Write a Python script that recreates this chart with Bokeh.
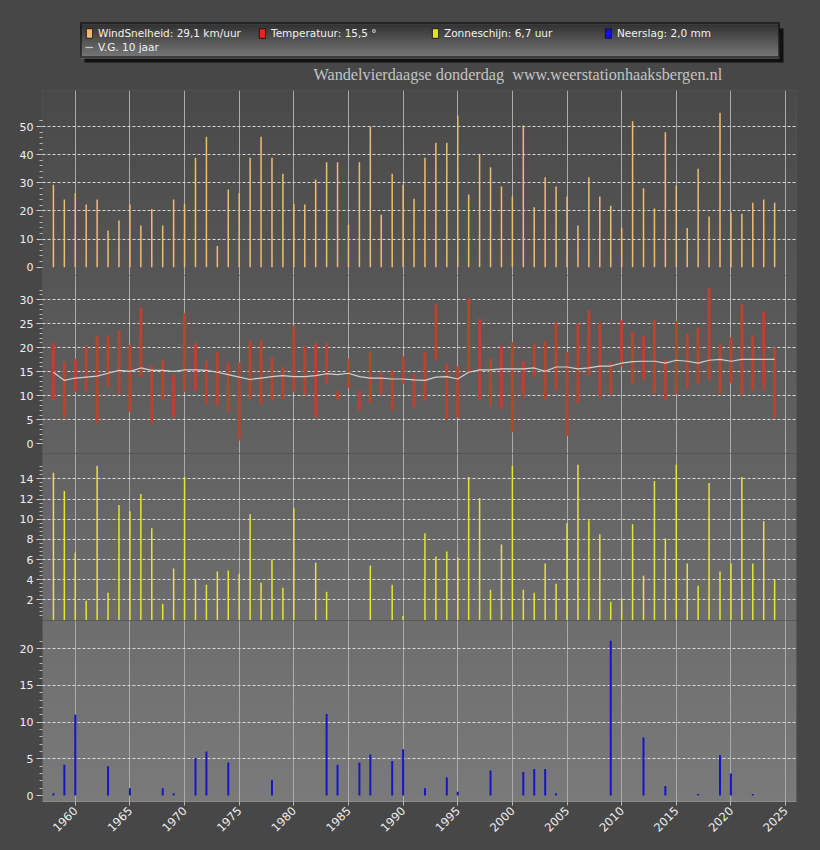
import math
import numpy as np
from bokeh.plotting import figure
from bokeh.models import Range1d, FixedTicker, Legend, LegendItem, Label
from bokeh.layouts import column
from bokeh.embed import file_html
from bokeh.resources import INLINE

# ---------------- data ----------------
years = list(range(1958, 2025))

wind_kmh = [29.3, 24.1, 26.3, 22.3, 24.1, 13.0, 16.6, 22.3, 14.8, 20.7, 14.8, 24.1,
            22.5, 38.9, 46.4, 7.5, 27.6, 26.3, 38.9, 46.4, 38.9, 33.2,
            22.5, 22.3, 31.2, 37.3, 37.3, 15.1, 37.3, 50.0, 18.6, 33.2,
            29.3, 24.3, 38.9, 44.2, 44.2, 53.9, 25.8, 39.9, 35.5, 28.7,
            25.1, 50.4, 21.3, 32.0, 28.7, 25.1, 14.8, 32.0, 25.1, 21.8,
            14.0, 51.9, 28.1, 20.9, 48.0, 29.0, 13.9, 35.0, 18.0, 54.9,
            19.5, 19.0, 22.9, 24.1, 22.9]

temp_max = [21.0, 17.1, 17.7, 20.3, 22.4, 22.6, 23.6, 20.6, 28.3, 16.3, 17.5, 14.6,
            27.3, 21.0, 17.3, 19.1, 17.0, 17.0, 21.4, 21.5, 18.0, 16.1,
            24.6, 20.4, 21.0, 21.0, 11.0, 17.7, 11.1, 19.1, 14.8, 15.4,
            18.2, 14.6, 19.1, 29.0, 16.8, 16.1, 30.2, 26.0, 17.7, 20.3,
            21.2, 17.1, 20.8, 21.4, 25.3, 19.1, 25.1, 27.8, 25.3, 17.0,
            25.7, 23.3, 22.4, 25.8, 17.5, 25.6, 22.9, 24.2, 32.5, 20.7,
            22.2, 29.0, 22.6, 27.6, 20.1]

temp_min = [9.2, 5.5, 10.8, 11.0, 4.3, 11.9, 10.4, 6.7, 13.9, 4.2, 9.2, 5.5,
            10.8, 11.1, 8.3, 8.0, 6.6, 0.7, 9.4, 8.3, 9.0, 9.2,
            10.8, 10.1, 5.5, 12.5, 9.2, 11.7, 6.9, 8.5, 10.4, 6.9,
            12.5, 7.6, 9.0, 17.4, 4.9, 5.5, 14.9, 9.2, 7.8, 7.3,
            2.4, 9.7, 13.9, 9.2, 11.1, 1.7, 8.5, 14.2, 9.7, 10.4,
            16.1, 12.4, 13.3, 10.5, 9.2, 10.4, 11.5, 12.5, 13.2, 10.5,
            12.6, 10.1, 11.1, 11.1, 5.5]

temp_avg10 = [14.9, 13.2, 13.7, 13.9, 14.1, 14.7, 15.3, 15.1, 15.8, 15.3, 15.3, 15.1,
              15.4, 15.4, 15.3, 14.9, 14.4, 13.9, 13.4, 13.7, 14.0, 14.2,
              14.0, 14.0, 14.2, 14.6, 14.4, 14.7, 14.0, 13.7, 13.7, 13.5,
              13.5, 13.3, 13.2, 13.9, 14.0, 13.5, 14.9, 15.4, 15.4, 15.6,
              15.6, 15.6, 15.8, 15.1, 16.0, 16.0, 15.6, 15.8, 16.2, 16.2,
              16.8, 17.1, 17.2, 17.2, 16.8, 17.4, 17.2, 16.8, 17.4, 17.6,
              17.2, 17.6, 17.6, 17.6, 17.6]

sun_hours = [14.6, 12.8, 6.7, 1.9, 15.3, 2.7, 11.4, 10.8, 12.5, 9.1, 1.6, 5.1,
             14.2, 4.1, 3.5, 4.8, 4.9, 4.6, 10.5, 3.7, 6.0, 3.2,
             11.1, 0.0, 5.7, 2.8, 0.0, 0.0, 0.0, 5.4, 0.0, 3.5,
             0.4, 0.0, 8.6, 6.3, 6.8, 6.2, 14.2, 12.1, 3.0, 7.5,
             15.3, 3.0, 2.7, 5.6, 3.6, 9.6, 15.4, 9.9, 8.5, 1.8,
             2.1, 9.5, 4.4, 13.8, 8.1, 15.4, 5.6, 3.4, 13.6, 4.8,
             5.6, 14.2, 5.6, 9.8, 4.0]

rain_mm = [0.3, 4.2, 11.0, 0.0, 0.0, 4.0, 0.0, 1.0, 0.0, 0.0, 1.0, 0.3,
           0.0, 5.1, 6.0, 0.0, 4.5, 0.0, 0.0, 0.0, 2.1, 0.0,
           0.0, 0.0, 0.0, 11.1, 4.2, 0.0, 4.5, 5.6, 0.0, 4.7,
           6.3, 0.0, 1.0, 0.0, 2.5, 0.5, 0.0, 0.0, 3.4, 0.0,
           0.0, 3.2, 3.6, 3.6, 0.3, 0.0, 0.0, 0.0, 0.0, 21.1,
           0.0, 0.0, 7.9, 0.0, 1.3, 0.0, 0.0, 0.2, 0.0, 5.5,
           3.0, 0.0, 0.2, 0.0, 0.0]

x_ticks = list(range(1960, 2030, 5))
wind_ticks = [0, 10, 20, 30, 40, 50]
temp_ticks = [0, 5, 10, 15, 20, 25, 30]
sun_ticks = [2, 4, 6, 8, 10, 12, 14]
rain_ticks = [0, 5, 10, 15, 20]

legend_labels = ["WindSnelheid: 29,1 km/uur", "Temperatuur: 15,5 °",
                 "Zonneschijn: 6,7 uur", "Neerslag: 2,0 mm", "V.G. 10 jaar"]
title_text = "Wandelvierdaagse donderdag\u00a0 www.weerstationhaaksbergen.nl"

# ---------------- styling ----------------
FONT = "DejaVu Sans"
BORDER = "#474747"
PLOT_TOP, PLOT_BOTTOM = 90, 801
G_TOP, G_BOT = 73, 122
LEFT, FRAME_W, RIGHT = 42, 754, 24
NAN = [float("nan")]

x_range = Range1d(1957, 2026)


def gradient_image(h, c_top, c_bot):
    img = np.empty((h, 1), dtype=np.uint32)
    view = img.view(dtype=np.uint8).reshape((h, 1, 4))
    for i in range(h):
        t = (h - i - 0.5) / h
        c = int(round(c_top + (c_bot - c_top) * t))
        view[i, 0, :] = [c, c, c, 255]
    return img


def add_background(p, ymin, ymax, top_px, h):
    c_top = G_TOP + (G_BOT - G_TOP) * (top_px - PLOT_TOP) / (PLOT_BOTTOM - PLOT_TOP)
    c_bot = G_TOP + (G_BOT - G_TOP) * (top_px + h - PLOT_TOP) / (PLOT_BOTTOM - PLOT_TOP)
    r = p.image_rgba(image=[gradient_image(h, c_top, c_bot)], x=1957, y=ymin,
                     dw=69, dh=ymax - ymin)
    r.level = "image"


def make_panel(frame_h, top_px, ymin, ymax, major, minor, grid_ticks,
               min_bottom=0, with_xaxis=False):
    p = figure(frame_width=FRAME_W, frame_height=frame_h, x_range=x_range,
               y_range=Range1d(ymin, ymax), output_backend="svg",
               toolbar_location=None,
               x_axis_location="below" if with_xaxis else None,
               min_border_left=LEFT, min_border_right=RIGHT,
               min_border_top=0, min_border_bottom=min_bottom,
               background_fill_color="#5e5e5e", border_fill_color=BORDER,
               outline_line_color=None)
    add_background(p, ymin, ymax, top_px, frame_h)
    ax = p.yaxis[0]
    ax.ticker = FixedTicker(ticks=major, minor_ticks=minor)
    ax.axis_line_color = None
    ax.major_tick_line_color = "#d0d0d0"
    ax.minor_tick_line_color = "#b8b8b8"
    ax.major_tick_out = 6
    ax.major_tick_in = 0
    ax.minor_tick_out = 3
    ax.minor_tick_in = 0
    ax.major_label_text_color = "#f0f0f0"
    ax.major_label_text_font = FONT
    ax.major_label_text_font_size = "11px"
    ax.major_label_standoff = 3
    p.ygrid.ticker = FixedTicker(ticks=grid_ticks)
    p.ygrid.grid_line_color = "#d8d8d8"
    p.ygrid.grid_line_dash = "3 2"
    p.ygrid.grid_line_width = 1
    p.xgrid.ticker = FixedTicker(ticks=x_ticks)
    p.xgrid.grid_line_color = "#ababab"
    p.xgrid.grid_line_width = 1
    if with_xaxis:
        xa = p.xaxis[0]
        xa.ticker = FixedTicker(ticks=x_ticks)
        xa.axis_line_color = "#8c8c8c"
        xa.major_tick_line_color = "#bbbbbb"
        xa.major_tick_out = 4
        xa.major_tick_in = 0
        xa.minor_tick_line_color = None
        xa.major_label_orientation = math.pi / 4
        xa.major_label_text_color = "#f0f0f0"
        xa.major_label_text_font = FONT
        xa.major_label_text_font_size = "11.5px"
        xa.major_label_standoff = 3
    return p


# Header: legend + title. Frame aligned with the panels; data units = page pixels
# (x measured from page left, y measured upward from the top of the plot area).
head = figure(frame_width=FRAME_W, frame_height=PLOT_TOP,
              x_range=Range1d(LEFT, LEFT + FRAME_W), y_range=Range1d(0, PLOT_TOP),
              output_backend="svg", toolbar_location=None,
              x_axis_location=None, y_axis_location=None,
              min_border_left=LEFT, min_border_right=RIGHT, min_border_top=0,
              min_border_bottom=0, background_fill_color=BORDER,
              border_fill_color=BORDER, outline_line_color=None)
head.xgrid.visible = False
head.ygrid.visible = False

# legend box decoration: drop shadow and gradient fill
LEG_X0, LEG_X1, LEG_Y0, LEG_Y1 = 80, 779, 32, 66
head.quad(left=[LEG_X0 + 4], right=[LEG_X1 + 4], bottom=[LEG_Y0 - 4], top=[LEG_Y1 - 4],
          fill_color="#111111", line_color=None)
head.image_rgba(image=[gradient_image(LEG_Y1 - LEG_Y0, 50, 122)], x=LEG_X0, y=LEG_Y0,
                dw=LEG_X1 - LEG_X0, dh=LEG_Y1 - LEG_Y0)

lw = head.quad(left=NAN, right=NAN, top=NAN, bottom=NAN, fill_color="#f4b66e", line_color="#1a1a1a")
lt = head.quad(left=NAN, right=NAN, top=NAN, bottom=NAN, fill_color="#e8261c", line_color="#1a1a1a")
ls = head.quad(left=NAN, right=NAN, top=NAN, bottom=NAN, fill_color="#e4e41e", line_color="#1a1a1a")
lr = head.quad(left=NAN, right=NAN, top=NAN, bottom=NAN, fill_color="#1212e0", line_color="#1a1a1a")
lv = head.line(x=NAN, y=NAN, line_color="#c8c8c8", line_width=1.2)

legend = Legend(items=[LegendItem(label=legend_labels[0], renderers=[lw]),
                       LegendItem(label=legend_labels[1], renderers=[lt]),
                       LegendItem(label=legend_labels[2], renderers=[ls]),
                       LegendItem(label=legend_labels[3], renderers=[lr]),
                       LegendItem(label=legend_labels[4], renderers=[lv])],
                location=(LEG_X0 - LEFT, LEG_Y0), orientation="horizontal", ncols=4,
                glyph_width=8, glyph_height=12, label_standoff=5,
                label_width=158, label_height=12, spacing=2, padding=3,
                margin=0,
                label_text_font=FONT, label_text_font_size="10.5px",
                label_text_color="#f2f2f2",
                background_fill_alpha=0.0,
                border_line_color="#000000", border_line_width=2)
head.add_layout(legend, "center")

title = Label(x=313, y=16, x_units="data", y_units="data", text=title_text,
              text_font="Liberation Serif", text_font_size="16.2px",
              text_color="#c4c4c4", text_baseline="alphabetic")
head.add_layout(title)

# Panel 1: wind
p1 = make_panel(185, 90, -2.95, 62.8, wind_ticks, list(range(0, 54, 2)),
                [10, 20, 30, 40, 50])
p1.segment(x0=years, y0=[0] * len(years), x1=years, y1=wind_kmh,
           line_color="#f0bd6e", line_width=1.5)

# Panel 2: temperature
p2 = make_panel(178, 275, -2.02, 35.06, temp_ticks, list(range(0, 33)),
                [5, 10, 15, 20, 25, 30])
p2.segment(x0=years, y0=temp_min, x1=years, y1=temp_max,
           line_color="#b8432f", line_width=3)
p2.line(x=years, y=temp_avg10, line_color="#cfcfcf", line_width=1.2)

# Panel 3: sunshine
sun_minor = [round(0.4 * k, 1) for k in range(1, 39)]
p3 = make_panel(167, 453, -0.05, 16.52, sun_ticks, sun_minor, sun_ticks)
p3.segment(x0=years, y0=[0] * len(years), x1=years, y1=sun_hours,
           line_color="#e6e632", line_width=1.5)

# Panel 4: rain
p4 = make_panel(181, 620, -0.818, 23.86, rain_ticks, list(range(0, 22)),
                [5, 10, 15, 20], min_bottom=49, with_xaxis=True)
p4.segment(x0=years, y0=[0] * len(years), x1=years, y1=rain_mm,
           line_color="#1616c8", line_width=2)

layout = column(head, p1, p2, p3, p4, spacing=0)
layout.styles = {"background-color": BORDER}

open("out.html", "w").write(file_html(layout, INLINE))
